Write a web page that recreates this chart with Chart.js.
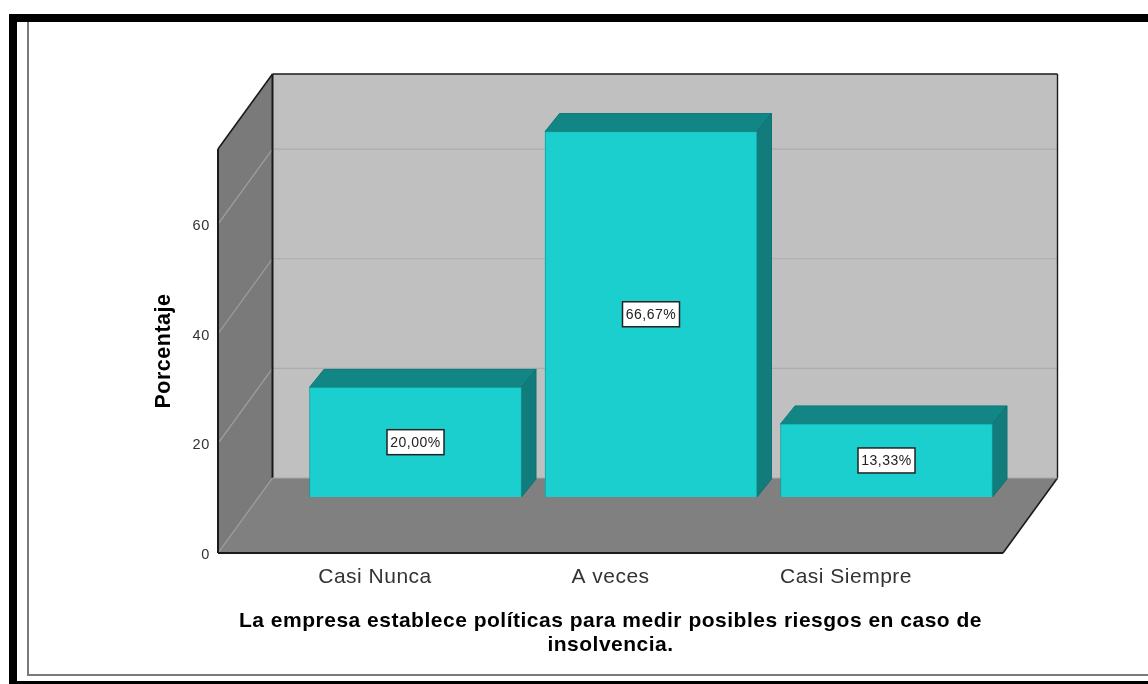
<!DOCTYPE html>
<html>
<head>
<meta charset="utf-8">
<style>html,body{margin:0;padding:0;background:#fff}canvas{display:block}</style>
<script src="https://cdn.jsdelivr.net/npm/chart.js@4"></script>
</head>
<body>
<canvas id="c" width="1148" height="684"></canvas>
<script>
const categories = ["Casi Nunca", "A veces", "Casi Siempre"];
const percentages = [20.00, 66.67, 13.33];
const percentLabels = ["20,00%", "66,67%", "13,33%"];
const yTitle = "Porcentaje";
const xTitleLines = ["La empresa establece políticas para medir posibles riesgos en caso de", "insolvencia."];

const W = {dx: 54.5, dy: -75};     // depth of the chart box
const B = {x: 40.5, y: -56};       // bar row position on the floor
const D = {dx: 14.5, dy: -18};     // depth of a bar

function poly(ctx, pts, fill, stroke, lw) {
  ctx.beginPath();
  pts.forEach((p, i) => i ? ctx.lineTo(p[0], p[1]) : ctx.moveTo(p[0], p[1]));
  ctx.closePath();
  if (fill) { ctx.fillStyle = fill; ctx.fill(); }
  if (stroke) { ctx.strokeStyle = stroke; ctx.lineWidth = lw || 1; ctx.stroke(); }
}
function seg(ctx, a, b, color, lw) {
  ctx.beginPath(); ctx.moveTo(a[0], a[1]); ctx.lineTo(b[0], b[1]);
  ctx.strokeStyle = color; ctx.lineWidth = lw; ctx.stroke();
}

const box3d = {
  id: "box3d",
  beforeDraw(chart) {
    const ctx = chart.ctx;
    ctx.save();
    ctx.fillStyle = "#fff"; ctx.fillRect(0, 0, chart.width, chart.height);
    // page frame
    ctx.fillStyle = "#000";
    ctx.fillRect(9, 14, chart.width - 9, 8);
    ctx.fillRect(9, 14, 8, chart.height - 14);
    ctx.fillRect(9, 681, chart.width - 9, 3);
    ctx.fillStyle = "#7a7a7a";
    ctx.fillRect(27, 22, 2, 654);
    ctx.fillRect(27, 674, chart.width - 27, 2);
    ctx.restore();
    ctx.letterSpacing = "0.5px";
    // value labels sit slightly below their tick position
    chart.scales.y.getLabelItems().forEach(item => {
      if (!item.moved) { item.options.translation[1] += 2; item.moved = true; }
    });
  },
  beforeDatasetsDraw(chart) {
    const ctx = chart.ctx, y = chart.scales.y;
    const L = 218, R = 1003;
    const y0 = y.getPixelForValue(0), yTop = y.top;
    ctx.save();
    // back wall, left wall, floor
    poly(ctx, [[L + W.dx, yTop + W.dy], [R + W.dx, yTop + W.dy], [R + W.dx, y0 + W.dy], [L + W.dx, y0 + W.dy]], "#c0c0c0");
    poly(ctx, [[L, yTop], [L + W.dx, yTop + W.dy], [L + W.dx, y0 + W.dy], [L, y0]], "#7a7a7a");
    poly(ctx, [[L, y0], [L + W.dx, y0 + W.dy], [R + W.dx, y0 + W.dy], [R, y0]], "#808080");
    // grid lines follow the value scale
    y.ticks.forEach(t => {
      const p = y.getPixelForValue(t.value);
      seg(ctx, [L, p], [L + W.dx, p + W.dy], "#a0a0a0", 1.2);
      if (t.value > 0) seg(ctx, [L + W.dx, p + W.dy], [R + W.dx, p + W.dy], "#acacac", 1.2);
    });
    seg(ctx, [L, yTop], [L + W.dx, yTop + W.dy], "#1a1a1a", 1.6);
    seg(ctx, [L + W.dx, yTop + W.dy], [R + W.dx, yTop + W.dy], "#1a1a1a", 1.6);
    seg(ctx, [L + W.dx, yTop + W.dy], [L + W.dx, y0 + W.dy], "#1a1a1a", 2);
    seg(ctx, [R + W.dx, yTop + W.dy], [R + W.dx, y0 + W.dy], "#1a1a1a", 1.4);
    seg(ctx, [L, yTop], [L, y0], "#1a1a1a", 2);
    seg(ctx, [L, y0], [R, y0], "#1a1a1a", 2);
    seg(ctx, [R, y0], [R + W.dx, y0 + W.dy], "#1a1a1a", 1.6);
    seg(ctx, [L + W.dx, y0 + W.dy], [R + W.dx, y0 + W.dy], "#a8a8a8", 1);
    ctx.restore();

    // bars: side and top faces, then the library's own front face shifted onto the floor
    ctx.save();
    ctx.translate(B.x, B.y);
    chart.getDatasetMeta(0).data.forEach(bar => {
      const l = bar.x - bar.width / 2, r = bar.x + bar.width / 2;
      poly(ctx, [[l, bar.y], [l + D.dx, bar.y + D.dy], [r + D.dx, bar.y + D.dy], [r, bar.y]], "#128585", "#0f7a7a", 1);
      poly(ctx, [[r, bar.y], [r + D.dx, bar.y + D.dy], [r + D.dx, bar.base + D.dy], [r, bar.base]], "#127c7c", "#0f7272", 1);
    });
  },
  afterDatasetsDraw(chart) {
    const ctx = chart.ctx;
    ctx.restore();
    ctx.save();
    ctx.font = "14px 'Liberation Sans', Arial, sans-serif";
    ctx.textAlign = "center"; ctx.textBaseline = "middle";
    chart.getDatasetMeta(0).data.forEach((bar, i) => {
      const cx = bar.x + B.x, cy = (bar.y + bar.base) / 2 + B.y;
      const w = 57, h = 25;
      ctx.fillStyle = "#fff"; ctx.fillRect(cx - w / 2, cy - h / 2, w, h);
      ctx.strokeStyle = "#222"; ctx.lineWidth = 1.5; ctx.strokeRect(cx - w / 2, cy - h / 2, w, h);
      ctx.fillStyle = "#222"; ctx.fillText(percentLabels[i], cx, cy + 0.5);
    });
    ctx.restore();
  },
  afterDraw(chart) {
    // the axis title is wider than the category range, so it is set here without squeezing
    const ctx = chart.ctx, a = chart.chartArea;
    ctx.save();
    ctx.font = "bold 21px 'Liberation Sans', Arial, sans-serif";
    ctx.fillStyle = "#000";
    ctx.textAlign = "center"; ctx.textBaseline = "middle";
    xTitleLines.forEach((line, i) => ctx.fillText(line, (a.left + a.right) / 2, a.bottom + 68 + i * 24));
    ctx.restore();
  }
};

new Chart(document.getElementById("c"), {
  type: "bar",
  data: {
    labels: categories,
    datasets: [{
      data: percentages,
      backgroundColor: "#1ccfcf",
      borderColor: "#129c9c",
      borderWidth: 1,
      barThickness: 212,
      clip: false
    }]
  },
  options: {
    responsive: false,
    animation: false,
    layout: {padding: {top: 149, right: 184.25, left: 0, bottom: 0}},
    plugins: {legend: {display: false}, tooltip: {enabled: false}},
    scales: {
      x: {
        grid: {display: false, drawTicks: false},
        border: {display: false},
        ticks: {color: "#333", font: {family: "'Liberation Sans', Arial, sans-serif", size: 21}, padding: 12, maxRotation: 0},
        afterFit(s) { s.height = 131; }
      },
      y: {
        min: 0, max: 73.7,
        grid: {display: false, drawTicks: false},
        border: {display: false},
        ticks: {stepSize: 20, includeBounds: false, color: "#333", font: {family: "'Liberation Sans', Arial, sans-serif", size: 14.5}, padding: 47.5},
        title: {
          display: true, text: yTitle, color: "#000",
          font: {family: "'Liberation Sans', Arial, sans-serif", size: 21.5, weight: "bold"},
          padding: {top: 151, bottom: 0}
        },
        afterFit(s) { s.width = 257.25; }
      }
    }
  },
  plugins: [box3d]
});
</script>
</body>
</html>
